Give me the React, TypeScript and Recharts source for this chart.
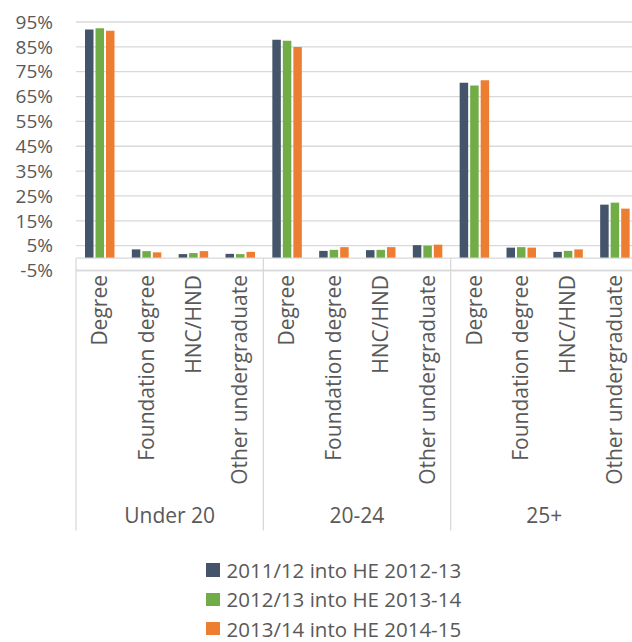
import React from 'react';
import {
  BarChart, Bar, XAxis, YAxis, CartesianGrid, ReferenceLine, Legend,
} from 'recharts';

const CATEGORIES = ['Degree', 'Foundation degree', 'HNC/HND', 'Other undergraduate'];
const AGE_GROUPS = ['Under 20', '20-24', '25+'];
const Y_TICKS = [-5, 5, 15, 25, 35, 45, 55, 65, 75, 85, 95];

// percent values, ordered by age group then category
const S_2011_12 = [92.0, 3.5, 1.6, 1.7, 87.9, 2.9, 3.2, 5.2, 70.6, 4.2, 2.5, 21.5];
const S_2012_13 = [92.5, 2.8, 2.0, 1.6, 87.5, 3.3, 3.3, 5.0, 69.4, 4.4, 2.9, 22.3];
const S_2013_14 = [91.5, 2.3, 2.8, 2.5, 84.9, 4.4, 4.4, 5.4, 71.6, 4.2, 3.5, 19.9];

const SERIES = [
  { key: 's1', label: '2011/12 into HE 2012-13', color: '#44546A' },
  { key: 's2', label: '2012/13 into HE 2013-14', color: '#70AD47' },
  { key: 's3', label: '2013/14 into HE 2014-15', color: '#ED7D31' },
];

const FONT = '"Open Sans", sans-serif';
const TEXT = '#595959';
const GRID = '#D9D9D9';

const W = 640;
const H = 642;
const MARGIN = { top: 22, right: 2, left: 0, bottom: 0 };
const Y_W = 76;
const CAT_H = 210;
const GRP_H = 46.5;
const LEGEND_H = 115;

const plotH = H - MARGIN.top - MARGIN.bottom - LEGEND_H - GRP_H - CAT_H;
const bandW = (W - MARGIN.left - MARGIN.right - Y_W) / (CATEGORIES.length * AGE_GROUPS.length);
const zeroOffset = (plotH * 5) / 100; // distance from plot bottom (-5%) up to 0%
const boxBottom = CAT_H + 50; // dividers run just past the group labels

const data = AGE_GROUPS.flatMap((grp, gi) =>
  CATEGORIES.map((cat, ci) => {
    const i = gi * CATEGORIES.length + ci;
    return { cat, grp, s1: S_2011_12[i], s2: S_2012_13[i], s3: S_2013_14[i] };
  }),
);

function CatTick(props: any) {
  const { x, y, index, payload } = props;
  const axisY = y - 6; // bottom of plot area
  const n = data.length;
  return (
    <g>
      {index % CATEGORIES.length === 0 && (
        <line x1={x - bandW / 2} x2={x - bandW / 2} y1={axisY - zeroOffset} y2={axisY + boxBottom}
          stroke={GRID} strokeWidth={1.3} />
      )}
      {index === n - 1 && (
        <line x1={x + bandW / 2} x2={x + bandW / 2} y1={axisY - zeroOffset} y2={axisY + boxBottom}
          stroke={GRID} strokeWidth={1.3} />
      )}
      <text x={x} y={y - 1.5} transform={`rotate(-90, ${x}, ${y - 1.5})`} textAnchor="end" dy="0.36em"
        fill={TEXT} fontSize={21} fontFamily={FONT}>
        {payload.value}
      </text>
    </g>
  );
}

function GroupTick(props: any) {
  const { x, y, payload } = props;
  return (
    <text x={x} y={y + 36.5} textAnchor="middle" fill={TEXT} fontSize={21} fontFamily={FONT}>
      {payload.value}
    </text>
  );
}

function LegendBox() {
  return (
    <div style={{ height: LEGEND_H, boxSizing: 'border-box', paddingTop: 32, paddingLeft: 206, fontFamily: FONT, fontSize: 20.5, lineHeight: '20px', color: TEXT }}>
      {SERIES.map((s, i) => (
        <div key={s.key} style={{ display: 'flex', alignItems: 'center', height: 22, marginBottom: i < SERIES.length - 1 ? 7.3 : 0, whiteSpace: 'nowrap' }}>
          <span style={{ display: 'inline-block', flex: 'none', width: 13.5, height: 13.5, background: s.color, marginRight: 7 }} />
          <span>{s.label}</span>
        </div>
      ))}
    </div>
  );
}

export default function App() {
  return (
    <div style={{ position: 'fixed', left: 0, top: 0, width: 632, height: 642, overflow: 'hidden', background: '#fff' }}>
      <BarChart width={W} height={H} data={data} margin={MARGIN} barGap={2} barSize={8.5}>
        <CartesianGrid vertical={false} stroke={GRID} strokeWidth={1.3} />
        <YAxis
          type="number"
          domain={[-5, 95]}
          ticks={Y_TICKS}
          interval={0}
          width={Y_W}
          axisLine={false}
          tickLine={false}
          tickMargin={17}
          tickFormatter={(v) => `${v}%`}
          tick={{ fill: TEXT, fontSize: 19, fontFamily: FONT }}
        />
        <XAxis
          dataKey="cat"
          height={CAT_H}
          interval={0}
          tickLine={false}
          tickMargin={0}
          axisLine={{ stroke: GRID, strokeWidth: 1.3 }}
          tick={<CatTick />}
        />
        <XAxis
          xAxisId="grp"
          dataKey="grp"
          allowDuplicatedCategory={false}
          height={GRP_H}
          interval={0}
          tickLine={false}
          tickMargin={0}
          axisLine={false}
          tick={<GroupTick />}
        />
        <ReferenceLine y={0} stroke={GRID} strokeWidth={1.3} />
        {SERIES.map((s) => (
          <Bar key={s.key} dataKey={s.key} name={s.label} fill={s.color} isAnimationActive={false} />
        ))}
        <Legend
          verticalAlign="bottom"
          content={<LegendBox />}
          wrapperStyle={{ left: 0, width: W }}
        />
      </BarChart>
    </div>
  );
}
